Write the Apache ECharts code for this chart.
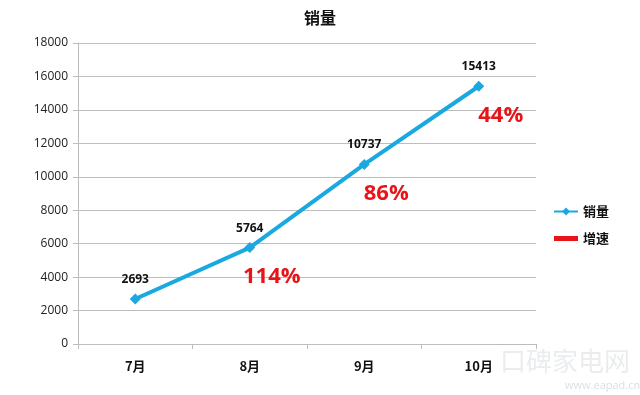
<!DOCTYPE html>
<html><head><meta charset="utf-8">
<script src="https://cdn.jsdelivr.net/npm/echarts@6/dist/echarts.min.js"></script>
<style>html,body{margin:0;padding:0;background:#fff}#c{width:640px;height:395px}</style>
</head><body><div id="c"></div>
<script>
var categories = ['7月', '8月', '9月', '10月'];
var sales = [2693, 5764, 10737, 15413];
var growth = [null, 114, 86, 44];
var yTicks = {min: 0, max: 18000, interval: 2000};

var FONT = '"Open Sans","Noto Sans CJK SC",sans-serif';
var chart = echarts.init(document.getElementById('c'));
chart.setOption({
  animation: false,
  backgroundColor: '#fff',
  title: {text: '销量', left: 'center', top: 5,
    textStyle: {fontFamily: '"Noto Sans CJK SC",sans-serif', fontSize: 16, fontWeight: 'bold', color: '#111'}},
  grid: {left: 78, right: 104, top: 43, bottom: 51},
  legend: {orient: 'vertical', left: 548, top: 200, itemGap: 14, itemWidth: 24, itemHeight: 10,
    textStyle: {fontFamily: '"Noto Sans CJK SC",sans-serif', fontSize: 13, fontWeight: 'bold', color: '#111'},
    data: [{name: '销量'}, {name: '增速', icon: 'path://M0,3h24v5h-24z'}]},
  xAxis: {type: 'category', data: categories, boundaryGap: true,
    axisLine: {lineStyle: {color: '#bdbdbd', width: 1}},
    axisTick: {show: true, length: 5, lineStyle: {color: '#bdbdbd'}},
    axisLabel: {margin: 16, fontFamily: '"Noto Sans CJK SC",sans-serif', fontSize: 13, fontWeight: 'bold', color: '#111'}},
  yAxis: {type: 'value', min: yTicks.min, max: yTicks.max, interval: yTicks.interval,
    axisLine: {show: true, lineStyle: {color: '#bdbdbd'}},
    axisTick: {show: true, length: 5, lineStyle: {color: '#bdbdbd'}},
    splitLine: {lineStyle: {color: '#bdbdbd', width: 1}},
    axisLabel: {margin: 10, fontFamily: FONT, fontSize: 12, color: '#222',
      formatter: function (v) { return String(v); }}},
  series: [
    {name: '销量', type: 'line', data: sales, color: '#1aa8e0',
      lineStyle: {width: 4, color: '#1aa8e0'}, symbol: 'diamond', symbolSize: 11,
      itemStyle: {color: '#1aa8e0'},
      label: {show: true, position: 'top', distance: 8, fontFamily: FONT, fontSize: 12, fontWeight: 'bold', color: '#111'}},
    {name: '增速', type: 'line', color: '#e8141a',
      data: sales.map(function (v, i) { return growth[i] == null ? null : v; }),
      lineStyle: {opacity: 0, width: 0}, symbol: 'circle', symbolSize: 0.01, showSymbol: true,
      itemStyle: {color: '#e8141a'}, silent: true, z: 5,
      label: {show: true, position: 'bottom', offset: [22, 13], fontFamily: FONT, fontSize: 22, fontWeight: 'bold', color: '#e8141a',
        formatter: function (p) { return growth[p.dataIndex] + '%'; }}}
  ],
  graphic: [
    {type: 'text', left: 500, top: 348, style: {text: '口碑家电网', fill: 'rgba(150,160,170,0.2)', font: '26px "Noto Sans CJK SC"'}},
    {type: 'text', left: 565, top: 380, style: {text: 'www.eapad.cn', fill: 'rgba(150,160,170,0.35)', font: '11px "Open Sans"'}}
  ]
});
</script></body></html>
